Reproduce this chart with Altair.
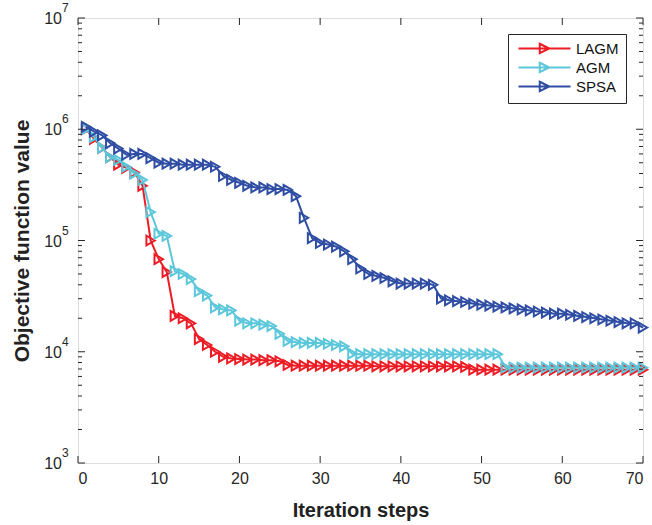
import altair as alt
import pandas as pd

# ---------------- data ----------------
steps = list(range(1, 71))

lagm = [
    1.0e6, 8.2e5, 6.8e5, 5.6e5, 4.8e5, 4.5e5, 4.1e5, 3.1e5, 1.0e5, 6.8e4,
    5.2e4, 2.1e4, 2.0e4, 1.8e4, 1.3e4, 1.15e4, 1.0e4, 9.0e3, 8.7e3, 8.6e3,
    8.5e3, 8.5e3, 8.4e3, 8.4e3, 8.2e3, 7.6e3, 7.5e3, 7.5e3, 7.5e3, 7.5e3,
    7.5e3, 7.5e3, 7.5e3, 7.5e3, 7.5e3, 7.5e3, 7.4e3, 7.4e3, 7.4e3, 7.4e3,
    7.4e3, 7.4e3, 7.4e3, 7.4e3, 7.4e3, 7.4e3, 7.4e3, 7.3e3, 6.9e3, 6.9e3,
    6.9e3, 6.9e3, 6.9e3, 6.9e3, 6.9e3, 6.9e3, 6.9e3, 6.9e3, 6.9e3, 6.9e3,
    6.9e3, 6.9e3, 6.9e3, 6.9e3, 6.9e3, 6.9e3, 6.9e3, 6.9e3, 6.9e3, 6.9e3,
]

agm = [
    1.0e6, 8.5e5, 6.8e5, 5.6e5, 5.3e5, 4.6e5, 4.0e5, 3.5e5, 1.8e5, 1.15e5,
    1.1e5, 5.3e4, 5.0e4, 4.5e4, 3.5e4, 3.2e4, 2.5e4, 2.4e4, 2.35e4, 1.9e4,
    1.8e4, 1.8e4, 1.75e4, 1.7e4, 1.45e4, 1.25e4, 1.22e4, 1.2e4, 1.2e4, 1.2e4,
    1.18e4, 1.15e4, 1.12e4, 9.6e3, 9.5e3, 9.5e3, 9.5e3, 9.5e3, 9.5e3, 9.5e3,
    9.5e3, 9.5e3, 9.5e3, 9.5e3, 9.5e3, 9.5e3, 9.5e3, 9.5e3, 9.5e3, 9.5e3,
    9.5e3, 9.5e3, 7.2e3, 7.2e3, 7.2e3, 7.2e3, 7.2e3, 7.2e3, 7.2e3, 7.2e3,
    7.2e3, 7.2e3, 7.2e3, 7.2e3, 7.2e3, 7.2e3, 7.2e3, 7.2e3, 7.2e3, 7.2e3,
]

spsa = [
    1.05e6, 9.5e5, 8.8e5, 7.5e5, 6.7e5, 5.9e5, 6.0e5, 6.0e5, 5.5e5, 5.0e5,
    4.9e5, 4.9e5, 4.8e5, 4.8e5, 4.8e5, 4.8e5, 4.6e5, 3.8e5, 3.5e5, 3.3e5,
    3.1e5, 3.0e5, 3.0e5, 2.9e5, 2.9e5, 2.85e5, 2.5e5, 1.6e5, 1.05e5, 9.5e4,
    9.2e4, 8.8e4, 8.0e4, 6.8e4, 5.6e4, 5.0e4, 4.8e4, 4.6e4, 4.3e4, 4.1e4,
    4.1e4, 4.1e4, 4.1e4, 4.0e4, 3.0e4, 2.9e4, 2.85e4, 2.8e4, 2.7e4, 2.65e4,
    2.6e4, 2.55e4, 2.5e4, 2.45e4, 2.4e4, 2.35e4, 2.3e4, 2.25e4, 2.2e4, 2.2e4,
    2.15e4, 2.1e4, 2.05e4, 2.0e4, 1.95e4, 1.9e4, 1.85e4, 1.8e4, 1.8e4, 1.65e4,
]

series_names = ["LAGM", "AGM", "SPSA"]
series_colors = ["#ED1C24", "#5CC7DA", "#2E4DA3"]

x_tick_values = [0, 10, 20, 30, 40, 50, 60, 70]
y_major_values = [1e3, 1e4, 1e5, 1e6, 1e7]
y_major_exponents = ["3", "4", "5", "6", "7"]
y_minor_values = [m * 10 ** k for k in range(3, 7) for m in range(2, 10)]

# ---------------- layout ----------------
W, H = 565, 445
FONT = "Liberation Sans"
FRAME = "#262626"

df = pd.concat(
    [pd.DataFrame({"step": steps, "value": vals, "series": name})
     for name, vals in zip(series_names, [lagm, agm, spsa])],
    ignore_index=True,
)

xscale = alt.Scale(domain=[0, 70], nice=False, zero=False)
yscale = alt.Scale(type="log", domain=[1e3, 1e7], nice=False)
cscale = alt.Scale(domain=series_names, range=series_colors)

legend = alt.Legend(
    title=None,
    orient="none",
    legendX=430,
    legendY=16,
    padding=7,
    symbolType="M-4,0L4,0M-0.73,-0.73L0.73,0L-0.73,0.73Z",
    symbolSize=169,
    symbolStrokeWidth=2,
    symbolFillColor="transparent",
    symbolOffset=22,
    labelOffset=24,
    rowPadding=0,
    labelFontSize=15,
    labelFont=FONT,
    labelColor="#111111",
    strokeColor=FRAME,
    fillColor="white",
)

x_axis = alt.Axis(
    values=x_tick_values,
    title="Iteration steps",
    titleFontSize=20,
    titleFontWeight="bold",
    titleFont=FONT,
    titleColor="#222222",
    titlePadding=14,
    labelFontSize=16,
    labelFont=FONT,
    labelColor="#262626",
    labelPadding=7,
    ticks=False,
    tickSize=0,
    domain=False,
    grid=False,
    format="d",
)
y_axis = alt.Axis(
    title="Objective function value",
    titleFontSize=21,
    titleFontWeight="bold",
    titleFont=FONT,
    titleColor="#222222",
    titlePadding=46,
    labels=False,
    ticks=False,
    domain=False,
    grid=False,
)

x_enc = alt.X("step:Q", scale=xscale, axis=x_axis)
y_enc = alt.Y("value:Q", scale=yscale, axis=y_axis)

layers = []
for name in series_names:
    d = df[df["series"] == name]
    base = alt.Chart(d)
    color = alt.Color("series:N", scale=cscale, legend=legend)
    layers.append(base.mark_line(strokeWidth=2).encode(x=x_enc, y=y_enc, color=color))
    layers.append(
        base.mark_point(shape="triangle-right", filled=False, size=95, strokeWidth=2, opacity=1)
        .encode(x=x_enc, y=y_enc, color=color)
    )

# tick marks (inward, Matlab style) – same fields/axes as the data layers
ymaj = pd.DataFrame({"value": y_major_values, "e": y_major_exponents})
ymin = pd.DataFrame({"value": y_minor_values})
xmaj = pd.DataFrame({"step": x_tick_values})

tick_layers = [
    alt.Chart(ymaj).mark_rule(color=FRAME, strokeWidth=1).encode(y=y_enc, x=alt.value(0), x2=alt.value(7)),
    alt.Chart(ymaj).mark_rule(color=FRAME, strokeWidth=1).encode(y=y_enc, x=alt.value(W), x2=alt.value(W - 7)),
    alt.Chart(ymin).mark_rule(color=FRAME, strokeWidth=1).encode(y=y_enc, x=alt.value(0), x2=alt.value(4)),
    alt.Chart(ymin).mark_rule(color=FRAME, strokeWidth=1).encode(y=y_enc, x=alt.value(W), x2=alt.value(W - 4)),
    alt.Chart(xmaj).mark_rule(color=FRAME, strokeWidth=1).encode(x=x_enc, y=alt.value(H), y2=alt.value(H - 7)),
    alt.Chart(xmaj).mark_rule(color=FRAME, strokeWidth=1).encode(x=x_enc, y=alt.value(0), y2=alt.value(7)),
]

# y tick labels "10" with superscript exponent
label_layers = [
    alt.Chart(ymaj).mark_text(align="right", baseline="middle", fontSize=16, font=FONT,
                              color="#262626", dy=1).encode(y=y_enc, x=alt.value(-16), text=alt.value("10")),
    alt.Chart(ymaj).mark_text(align="left", baseline="middle", fontSize=12, font=FONT,
                              color="#262626", dy=-10).encode(y=y_enc, x=alt.value(-16), text="e:N"),
]

chart = (
    alt.layer(*layers, *tick_layers, *label_layers)
    .properties(width=W, height=H, padding={"left": 78, "top": 18, "right": 9, "bottom": 62},
                autosize=alt.AutoSizeParams(type="none"))
    .configure_view(stroke=FRAME, strokeWidth=1)
    .configure(background="white")
)

chart.save("out.html", embed_options={"renderer": "svg", "actions": False})
